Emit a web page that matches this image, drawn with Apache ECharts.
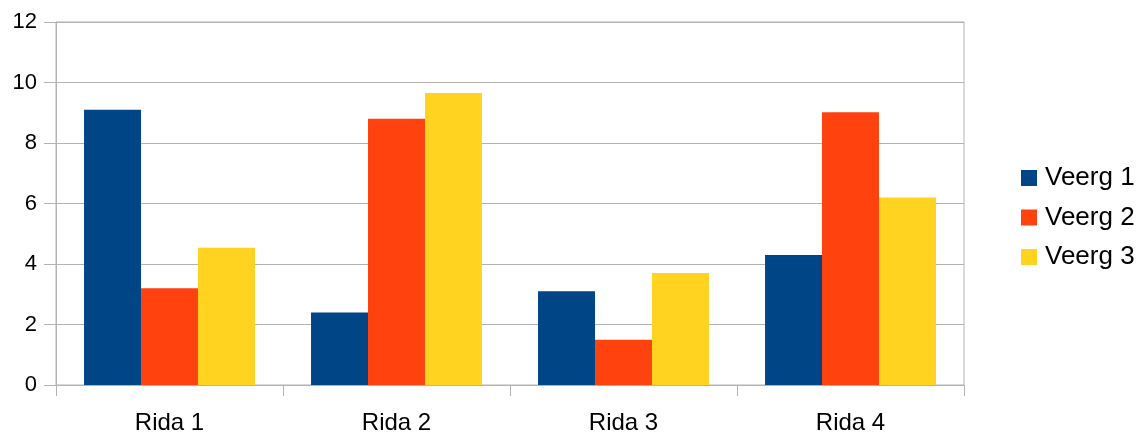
<!DOCTYPE html>
<html>
<head>
<meta charset="utf-8">
<script src="https://cdn.jsdelivr.net/npm/echarts@6/dist/echarts.min.js"></script>
<style>
  html, body { margin: 0; padding: 0; background: #fff; }
  #chart { width: 1142px; height: 433px; }
</style>
</head>
<body>
<div id="chart"></div>
<script>
  var categories = ['Rida 1', 'Rida 2', 'Rida 3', 'Rida 4'];
  var seriesNames = ['Veerg 1', 'Veerg 2', 'Veerg 3'];
  var veerg1 = [9.1, 2.4, 3.1, 4.3];
  var veerg2 = [3.2, 8.8, 1.5, 9.02];
  var veerg3 = [4.54, 9.65, 3.7, 6.2];
  var yTicks = [0, 2, 4, 6, 8, 10, 12];

  var gridColor = '#b3b3b3';
  var font = 'Liberation Sans, Arial, sans-serif';

  var myChart = echarts.init(document.getElementById('chart'));
  var option = {
    animation: false,
    color: ['#004586', '#ff420e', '#ffd320'],
    textStyle: { fontFamily: font },
    grid: {
      left: 56,
      right: 178,
      top: 22,
      bottom: 48,
      outerBoundsMode: 'none',
      show: true,
      borderColor: gridColor,
      borderWidth: 1
    },
    legend: {
      orient: 'vertical',
      left: 1021,
      top: 165,
      padding: 0,
      itemWidth: 16,
      itemHeight: 16,
      itemGap: 13.5,
      icon: 'rect',
      data: seriesNames,
      textStyle: { fontSize: 26, color: '#000', fontFamily: font, padding: [0, 0, 0, 3] }
    },
    xAxis: {
      type: 'category',
      data: categories,
      axisLine: { lineStyle: { color: gridColor } },
      axisTick: { show: true, length: 11, lineStyle: { color: gridColor } },
      axisLabel: { color: '#000', fontSize: 24, margin: 26, fontFamily: font },
      splitLine: { show: false }
    },
    yAxis: {
      type: 'value',
      min: yTicks[0],
      max: yTicks[yTicks.length - 1],
      interval: 2,
      axisLine: { show: true, lineStyle: { color: gridColor } },
      axisTick: { show: true, length: 12, lineStyle: { color: gridColor } },
      axisLabel: { color: '#000', fontSize: 22, margin: 19, fontFamily: font },
      splitLine: { show: true, lineStyle: { color: gridColor } }
    },
    series: [
      { name: seriesNames[0], type: 'bar', data: veerg1, barGap: '0%', barCategoryGap: '24.7%' },
      { name: seriesNames[1], type: 'bar', data: veerg2, barGap: '0%', barCategoryGap: '24.7%' },
      { name: seriesNames[2], type: 'bar', data: veerg3, barGap: '0%', barCategoryGap: '24.7%' }
    ]
  };
  myChart.setOption(option);
</script>
</body>
</html>
